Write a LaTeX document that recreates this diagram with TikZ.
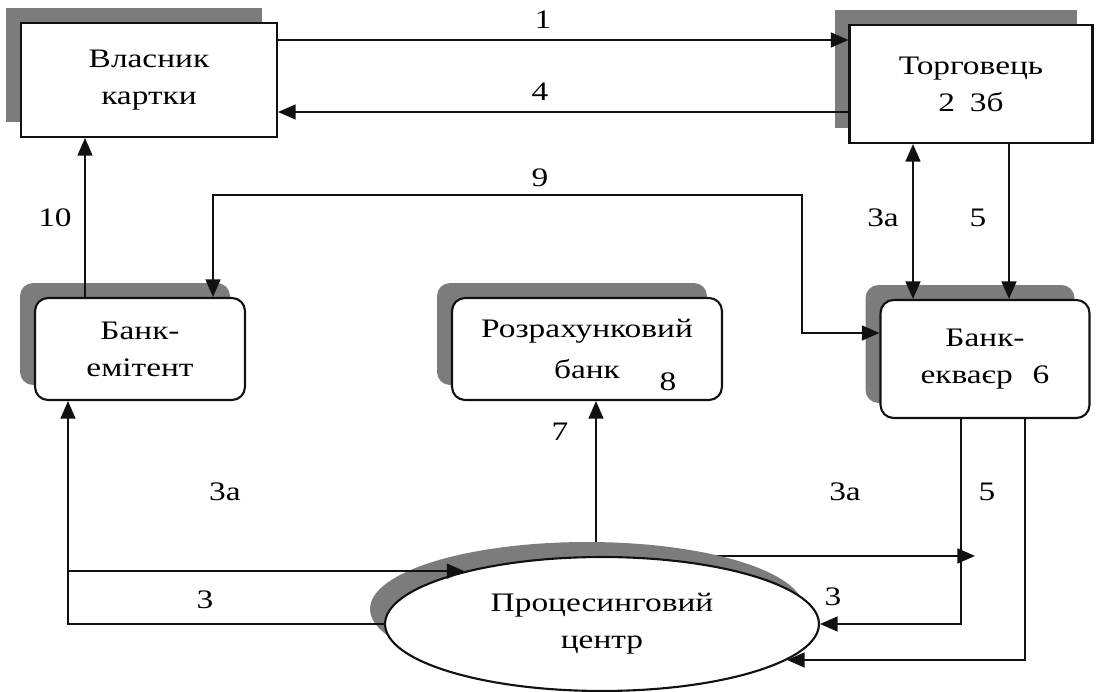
\documentclass[tikz,border=0pt]{standalone}
\usepackage{fontspec}
\setmainfont{Liberation Serif}[FakeStretch=1.25]
\usetikzlibrary{arrows.meta, shadows, backgrounds, positioning, shapes.geometric}
\definecolor{shadowgray}{HTML}{7C7C7C}
\definecolor{darkline}{HTML}{111111}
\def\shoff{0.3cm}
\def\txtsize{\fontsize{15.2}{21}\selectfont}
\tikzset{
  box/.style={rectangle, draw=darkline, fill=white, line width=1.2pt, inner sep=0pt,
              align=center, font=\txtsize,
              general shadow={shadow xshift=-\shoff, shadow yshift=\shoff, fill=shadowgray}},
  party/.style={box},
  bank/.style={box, rounded corners=0.26cm},
  centre/.style={box, ellipse},
  numtag/.style={font=\txtsize, inner sep=0pt},
  flow/.style={-{Triangle[length=10pt, width=8.5pt]}, line width=1pt, draw=darkline},
  twoway/.style={{Triangle[length=10pt, width=8.5pt]}-{Triangle[length=10pt, width=8.5pt]},
                 line width=1pt, draw=darkline},
}

\begin{document}
\begin{tikzpicture}[x=0.02cm, y=-0.02cm]
\useasboundingbox (0,0) rectangle (1100,692);

% Participants
\node[party, minimum width=5.12cm, minimum height=2.28cm] (holder) at (149,80) {Власник\\картки};
\node[party, minimum width=4.86cm, minimum height=2.36cm] (trader) at (971,84) {Торговець\\2\hspace{0.55em}3б};

% Banks
\node[bank, minimum width=4.2cm, minimum height=2.04cm] (issuer) at (140,349) {Банк-\\емітент};
\node[bank, minimum width=5.4cm, minimum height=2.04cm] (settle) at (587,349) {Розрахунковий\\[2pt]банк};
\node[bank, minimum width=4.18cm, minimum height=2.36cm] (acquirer) at (985,359) {Банк-\\екваєр\hspace{0.75em}6};
\node[numtag] (tag8) at (668,382) {8};

% Processing
\node[centre, minimum width=8.68cm, minimum height=2.68cm] (proc) at (602,624) {Процесинговий\\центр};

% Route points
\coordinate (r1) at (0,40);
\coordinate (r4) at (0,112);
\coordinate (c10) at (85,0);
\coordinate (k9a) at (213,195);
\coordinate (k9b) at (802,195);
\coordinate (r9) at (0,333);
\coordinate (c3a) at (913,0);
\coordinate (c5) at (1009,0);
\coordinate (c7) at (596,0);
\coordinate (cl) at (68,0);
\coordinate (t3a) at (975,0);
\coordinate (cr3) at (961,0);
\coordinate (cr5) at (1025,0);

% Flow
\draw[flow] (holder.east |- r1) -- (trader.west |- r1);
\draw[flow] (trader.west |- r4) -- (holder.east |- r4);
\draw[flow] (issuer.north -| c10) -- (holder.south -| c10);
\draw[twoway] (issuer.north -| k9a) -- (k9a) -- (k9b) |- (acquirer.west |- r9);
\draw[twoway] (trader.south -| c3a) -- (acquirer.north -| c3a);
\draw[flow] (trader.south -| c5) -- (acquirer.north -| c5);
\draw[flow] (proc.west) -| (issuer.south -| cl);
\draw[flow] (proc.159 -| cl) -- (proc.159);
\draw[flow] (acquirer.south -| cr3) |- (proc.east);
\draw[flow] (acquirer.south -| cr5) |- (proc.-11);
\begin{scope}[on background layer]
  \draw[flow] (proc.north -| c7) -- (settle.south -| c7);
  \draw[flow] (proc.north) -- (proc.north -| t3a);
\end{scope}

% Numbers
\node[numtag] (n1) at (543,20) {1};
\node[numtag] (n4) at (540,92) {4};
\node[numtag] (n9) at (540,178) {9};
\node[numtag] (n10) at (55,218) {10};
\node[numtag] (n3at) at (883,218) {3а};
\node[numtag] (n5t) at (978,218) {5};
\node[numtag] (n7) at (560,432) {7};
\node[numtag] (n3al) at (225,492) {3а};
\node[numtag] (n3ar) at (845,492) {3а};
\node[numtag] (n5r) at (987,492) {5};
\node[numtag] (n3l) at (205,600) {3};
\node[numtag] (n3r) at (833,597) {3};

\end{tikzpicture}
\end{document}
